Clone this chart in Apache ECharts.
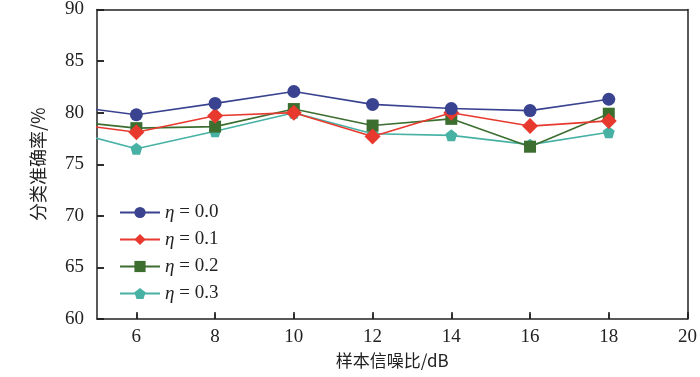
<!DOCTYPE html>
<html><head><meta charset="utf-8">
<script src="https://cdn.jsdelivr.net/npm/echarts@6/dist/echarts.min.js"></script>
<style>html,body{margin:0;padding:0;background:#fff}#c{width:700px;height:377px}</style>
</head><body><div id="c"></div>
<script>
const snr = [4, 6, 8, 10, 12, 14, 16, 18];
const eta00 = [80.8, 79.8, 80.9, 82.05, 80.8, 80.4, 80.2, 81.3];
const eta01 = [79.1, 78.1, 79.7, 80.0, 77.7, 80.0, 78.7, 79.2];
const eta02 = [79.3, 78.5, 78.65, 80.35, 78.75, 79.4, 76.7, 79.9];
const eta03 = [78.5, 76.5, 78.2, 80.0, 77.95, 77.8, 76.9, 78.1];
const seriesNames = ['η = 0.0', 'η = 0.1', 'η = 0.2', 'η = 0.3'];
const xTicks = [6, 8, 10, 12, 14, 16, 18, 20];

const colors = ['#3a4390', '#e8392f', '#3c6e30', '#47b2a4'];
const symbols = ['circle', 'diamond', 'rect', 'path://M0,-1 L0.951,-0.309 L0.588,0.809 L-0.588,0.809 L-0.951,-0.309 Z'];
const sizes = [13, 16, 12, 12];
const all = [eta00, eta01, eta02, eta03];
const serif = '"Liberation Serif", "Times New Roman", serif';

const gridTop = 8, gridBottom = 58, gridLeft = 97, gridRight = 7;
const plotH = 377 - gridTop - gridBottom;
const plotW = 700 - gridLeft - gridRight;
const tickLen = 7;

const chart = echarts.init(document.getElementById('c'));
chart.setOption({
  animation: false,
  grid: {left: gridLeft, top: gridTop, right: gridRight, bottom: gridBottom, show: false},
  legend: {
    orient: 'vertical', left: 114, top: 198, itemWidth: 40, itemHeight: 14, itemGap: 8,
    data: seriesNames,
    formatter: function (n) { return '{i|η}{t|' + n.slice(1) + '}'; },
    textStyle: {
      rich: {
        i: {fontFamily: serif, fontStyle: 'italic', fontSize: 19, color: '#222'},
        t: {fontFamily: serif, fontSize: 19, color: '#222'}
      }
    }
  },
  xAxis: [{
    type: 'value', min: 5, max: 20, splitNumber: 8, position: 'bottom',
    name: '样本信噪比/dB', nameLocation: 'middle', nameGap: 33,
    nameTextStyle: {fontFamily: '"Noto Sans CJK SC", serif', fontSize: 17, color: '#222'},
    axisLine: {show: true, onZero: false, lineStyle: {color: '#222', width: 1.5}},
    axisTick: {show: true, inside: true, length: tickLen, lineStyle: {color: '#222', width: 1.5}, customValues: xTicks},
    axisLabel: {show: true, fontFamily: serif, fontSize: 19, color: '#222', margin: 9, customValues: xTicks},
    splitLine: {show: true, lineStyle: {color: '#222', width: 1.5, type: [tickLen, plotH - tickLen], dashOffset: tickLen}}
  }, {
    type: 'value', min: 5, max: 20, position: 'top',
    axisLine: {show: true, onZero: false, lineStyle: {color: '#222', width: 1.5}},
    axisTick: {show: false}, axisLabel: {show: false}, splitLine: {show: false}
  }],
  yAxis: [{
    type: 'value', min: 60, max: 90, interval: 5, position: 'left',
    name: '分类准确率/%', nameLocation: 'middle', nameGap: 50,
    nameTextStyle: {fontFamily: '"Noto Sans CJK SC", serif', fontSize: 18, color: '#222'},
    axisLine: {show: true, onZero: false, lineStyle: {color: '#222', width: 1.5}},
    axisTick: {show: true, inside: true, length: tickLen, lineStyle: {color: '#222', width: 1.5}},
    axisLabel: {show: true, fontFamily: serif, fontSize: 19, color: '#222', margin: 13},
    splitLine: {show: true, lineStyle: {color: '#222', width: 1.5, type: [tickLen, plotW]}}
  }, {
    type: 'value', min: 60, max: 90, interval: 5, position: 'right',
    axisLine: {show: true, onZero: false, lineStyle: {color: '#222', width: 1.5}},
    axisTick: {show: false}, axisLabel: {show: false}, splitLine: {show: false}
  }],
  series: all.map(function (vals, i) {
    return {
      name: seriesNames[i], type: 'line', clip: true,
      data: snr.map(function (x, k) { return [x, vals[k]]; }),
      symbol: symbols[i], symbolSize: sizes[i], showAllSymbol: true,
      lineStyle: {color: colors[i], width: 1.6},
      itemStyle: {color: colors[i], borderColor: colors[i], borderWidth: 0},
      z: 10 - i
    };
  })
});
</script></body></html>
